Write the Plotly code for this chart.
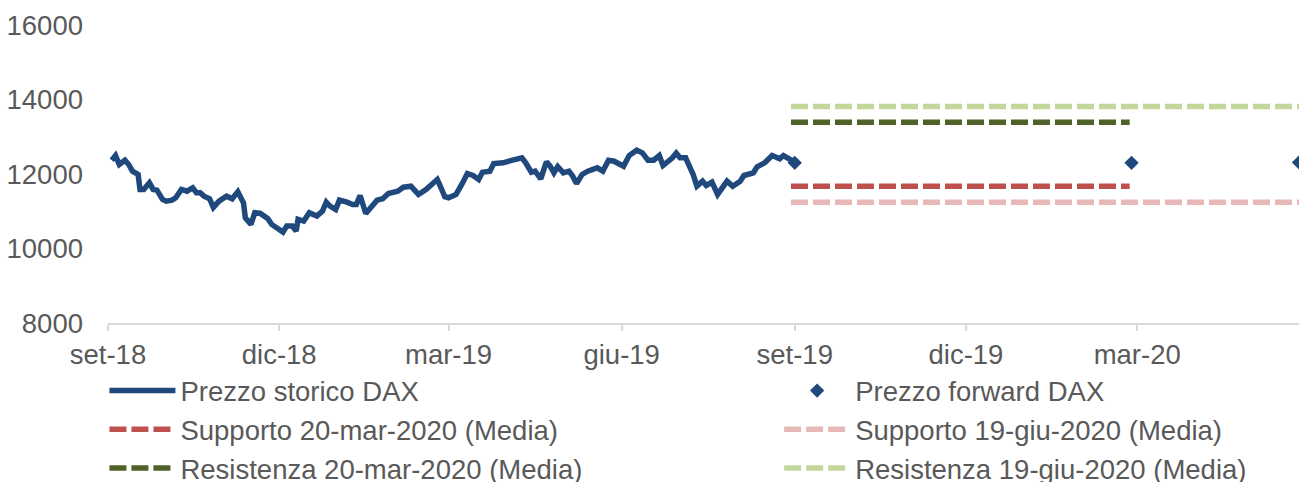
import plotly.graph_objects as go

hist_dates = [
    "2018-09-03","2018-09-05","2018-09-07","2018-09-10","2018-09-12","2018-09-14","2018-09-17","2018-09-18",
    "2018-09-20","2018-09-23","2018-09-25","2018-09-27","2018-09-30","2018-10-02","2018-10-05","2018-10-07",
    "2018-10-10","2018-10-13","2018-10-16","2018-10-18","2018-10-20","2018-10-22","2018-10-25","2018-10-27",
    "2018-10-30","2018-11-03","2018-11-06","2018-11-09","2018-11-12","2018-11-13","2018-11-16","2018-11-18",
    "2018-11-21","2018-11-25","2018-11-27","2018-11-30","2018-12-03","2018-12-05","2018-12-08","2018-12-10",
    "2018-12-11","2018-12-14","2018-12-17","2018-12-21","2018-12-24","2018-12-26","2018-12-28","2018-12-31",
    "2019-01-02","2019-01-06","2019-01-09","2019-01-11","2019-01-13","2019-01-16","2019-01-18","2019-01-22",
    "2019-01-25","2019-01-28","2019-02-02","2019-02-05","2019-02-09","2019-02-13","2019-02-17","2019-02-20",
    "2019-02-23","2019-02-25","2019-02-27","2019-03-01","2019-03-05","2019-03-08","2019-03-11","2019-03-14",
    "2019-03-17","2019-03-19","2019-03-23","2019-03-25","2019-03-30","2019-04-04","2019-04-09","2019-04-11",
    "2019-04-14","2019-04-16","2019-04-19","2019-04-22","2019-04-24","2019-04-26","2019-04-28","2019-05-01",
    "2019-05-04","2019-05-06","2019-05-08","2019-05-11","2019-05-14","2019-05-19","2019-05-22","2019-05-25",
    "2019-05-28","2019-06-02","2019-06-05","2019-06-09","2019-06-12","2019-06-15","2019-06-18","2019-06-21",
    "2019-06-23","2019-06-28","2019-06-30","2019-07-02","2019-07-05","2019-07-07","2019-07-09","2019-07-11",
    "2019-07-14","2019-07-16","2019-07-19","2019-07-22","2019-07-25","2019-07-27","2019-07-30","2019-08-03",
    "2019-08-05","2019-08-10","2019-08-12","2019-08-16","2019-08-20","2019-08-24","2019-08-26","2019-08-30",
    "2019-09-01",
]
hist_values = [
    12370,12496,12255,12370,12255,12075,11987,11585,
    11585,11764,11585,11566,11317,11271,11298,11362,
    11585,11539,11630,11496,11496,11405,11335,11102,
    11271,11405,11335,11523,11228,10826,10647,10960,
    10941,10799,10647,10558,10440,10601,10601,10467,
    10781,10735,10960,10869,11003,11244,11137,11049,
    11298,11244,11183,11183,11424,10941,11049,11298,
    11335,11477,11539,11646,11673,11451,11585,11737,
    11853,11630,11389,11362,11451,11719,12013,11960,
    11853,12048,12075,12281,12300,12370,12434,12300,
    12048,12075,11871,12327,12209,12032,12201,12032,
    12075,11941,11745,11987,12075,12166,12075,12370,
    12343,12209,12496,12638,12568,12370,12370,12496,
    12228,12434,12560,12434,12434,12209,11987,11673,
    11807,11692,11780,11451,11673,11807,11673,11807,
    11960,12032,12193,12300,12496,12407,12496,12370,
    12316,
]

fwd_dates = ["2019-09-01", "2020-02-27", "2020-05-26"]
fwd_values = [12300, 12300, 12310]

level_start = "2019-08-30"
mar_end = "2020-02-26"
giu_end = "2020-05-26"
supp_mar = 11670
res_mar = 13390
supp_giu = 11240
res_giu = 13810

tick_dates = ["2018-09-01","2018-12-01","2019-03-01","2019-06-01","2019-09-01","2019-12-01","2020-03-01"]
tick_labels = ["set-18","dic-18","mar-19","giu-19","set-19","dic-19","mar-20"]
y_ticks = [8000, 10000, 12000, 14000, 16000]
y_labels = ["8000", "10000", "12000", "14000", "16000"]

FONT = "Liberation Sans, Arial, sans-serif"
TXT = "#595959"
dash = "17px,5px"

fig = go.Figure()
fig.add_trace(go.Scatter(x=hist_dates, y=hist_values, mode="lines", name="Prezzo storico DAX",
                         line=dict(color="#1F497D", width=5.5), legend="legend"))
fig.add_trace(go.Scatter(x=[level_start, mar_end], y=[supp_mar, supp_mar], mode="lines",
                         name="Supporto 20-mar-2020 (Media)", legend="legend",
                         line=dict(color="#C0504D", width=5.5, dash=dash)))
fig.add_trace(go.Scatter(x=[level_start, mar_end], y=[res_mar, res_mar], mode="lines",
                         name="Resistenza 20-mar-2020 (Media)", legend="legend",
                         line=dict(color="#4F6228", width=5.5, dash=dash)))
fig.add_trace(go.Scatter(x=fwd_dates, y=fwd_values, mode="markers", name="Prezzo forward DAX",
                         legend="legend2",
                         marker=dict(symbol="diamond", size=11, color="#1F497D")))
fig.add_trace(go.Scatter(x=[level_start, giu_end], y=[supp_giu, supp_giu], mode="lines",
                         name="Supporto 19-giu-2020 (Media)", legend="legend2",
                         line=dict(color="#E6B9B8", width=5.5, dash=dash)))
fig.add_trace(go.Scatter(x=[level_start, giu_end], y=[res_giu, res_giu], mode="lines",
                         name="Resistenza 19-giu-2020 (Media)", legend="legend2",
                         line=dict(color="#C3D69B", width=5.5, dash=dash)))

leg_common = dict(orientation="v", xanchor="left", yanchor="top", itemwidth=66,
                  tracegroupgap=0, font=dict(family=FONT, size=27.5, color=TXT),
                  bgcolor="rgba(0,0,0,0)", borderwidth=0)

fig.update_layout(
    width=1299, height=482,
    margin=dict(l=108, r=0, t=25, b=158.5, autoexpand=False),
    paper_bgcolor="white", plot_bgcolor="white",
    font=dict(family=FONT, size=27.5, color=TXT),
    showlegend=True,
    legend=dict(x=-0.003, y=-0.145, **leg_common),
    legend2=dict(x=0.5635, y=-0.145, **leg_common),
    xaxis=dict(type="date", range=["2018-09-01", giu_end], tickmode="array",
               tickvals=tick_dates, ticktext=tick_labels, showgrid=False,
               showline=True, linecolor="#D9D9D9", linewidth=1.5,
               ticks="outside", ticklen=6, tickcolor="#D9D9D9", tickwidth=1.5,
               zeroline=False, tickfont=dict(family=FONT, size=27.5, color=TXT)),
    yaxis=dict(range=[8000, 16000], tickmode="array", tickvals=y_ticks, ticktext=y_labels,
               showgrid=False, showline=False, zeroline=False, ticks="", ticklabelstandoff=24,
               tickfont=dict(family=FONT, size=27.5, color=TXT)),
)

fig.write_html("out.html", config={"displayModeBar": False},
               post_script="document.body.style.margin='0';document.body.style.overflow='hidden';")
